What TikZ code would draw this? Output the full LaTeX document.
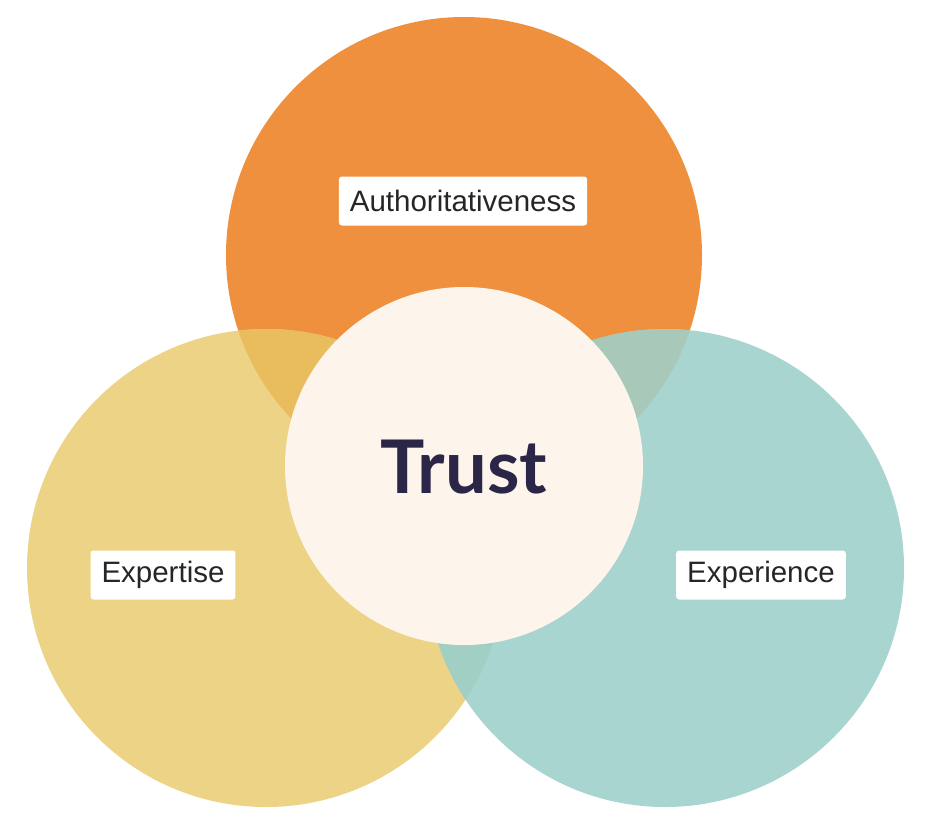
\documentclass[tikz,border=0pt]{standalone}
\usepackage{fontspec}
\setmainfont{Liberation Sans}
\newfontfamily\trustfont{Lato}
\definecolor{orangeC}{RGB}{238,144,61}
\definecolor{yellowC}{RGB}{237,211,134}
\definecolor{tealC}{RGB}{169,213,208}
\definecolor{creamC}{RGB}{253,245,236}
\definecolor{yoC}{RGB}{233,188,94}
\definecolor{toC}{RGB}{168,201,186}
\definecolor{tyC}{RGB}{161,207,195}
\definecolor{textC}{RGB}{43,37,72}
\begin{document}
\begin{tikzpicture}[x=1pt,y=-1pt,
  lbl/.style={fill=white,rounded corners=3pt,inner xsep=11pt,minimum height=49pt,font=\fontsize{29.5}{32}\selectfont,text=black!85}]
\useasboundingbox (0,0) rectangle (926,840);
\coordinate (co) at (464,255);
\coordinate (cy) at (266,568);
\coordinate (ct) at (665,568);
\fill[orangeC] (co) circle (238);
\fill[yellowC] (cy) circle (239);
\fill[tealC] (ct) circle (239);
\begin{scope}
  \clip (co) circle (238);
  \fill[yoC] (cy) circle (239);
\end{scope}
\begin{scope}
  \clip (co) circle (238);
  \fill[toC] (ct) circle (239);
\end{scope}
\begin{scope}
  \clip (cy) circle (239);
  \fill[tyC] (ct) circle (239);
\end{scope}
\node[circle,fill=creamC,minimum size=358pt,inner sep=0pt] (trust) at (464,466) {};
\node[text=textC,font=\trustfont\bfseries\fontsize{74}{84}\selectfont] (trusttext) at (464,467) {Trust};
\node[lbl] (auth) at (463,201) {Authoritativeness};
\node[lbl] (expt) at (163,575) {Expertise};
\node[lbl] (expr) at (761,575) {Experience};
\end{tikzpicture}
\end{document}
